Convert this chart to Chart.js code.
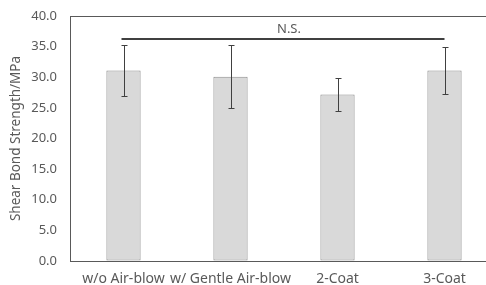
<!DOCTYPE html>
<html>
<head>
<meta charset="utf-8">
<script src="https://cdn.jsdelivr.net/npm/chart.js@4/dist/chart.umd.min.js"></script>
<style>
  html, body { margin: 0; padding: 0; background: #fff; overflow: hidden; }
  .chart-wrapper { width: 500px; height: 285px; position: relative; }
</style>
</head>
<body>
<div class="chart-wrapper"><canvas id="bondChart"></canvas></div>
<script>
const categories = ['w/o Air-blow', 'w/ Gentle Air-blow', '2-Coat', '3-Coat'];
const means = [31.1, 30.1, 27.2, 31.1];
const sds = [4.2, 5.1, 2.7, 3.9];
const yTicks = [0, 5, 10, 15, 20, 25, 30, 35, 40];

// significance bracket: from first to last group
const nsLabel = 'N.S.';
const nsFrom = 0;
const nsTo = 3;
const nsLevel = 36.2;

const FONT = '"Noto Sans", sans-serif';
const TEXT = '#595959';

const errorBars = {
  id: 'errorBars',
  afterDatasetsDraw(chart) {
    const { ctx, scales: { x, y } } = chart;
    ctx.save();
    ctx.strokeStyle = '#404040';
    ctx.lineWidth = 1;
    means.forEach((m, i) => {
      const cx = Math.round(x.getPixelForValue(i)) + 0.5;
      const top = Math.round(y.getPixelForValue(m + sds[i])) + 0.5;
      const bot = Math.round(y.getPixelForValue(m - sds[i])) + 0.5;
      ctx.beginPath();
      ctx.moveTo(cx, top);
      ctx.lineTo(cx, bot);
      ctx.moveTo(cx - 3, top);
      ctx.lineTo(cx + 3, top);
      ctx.moveTo(cx - 3, bot);
      ctx.lineTo(cx + 3, bot);
      ctx.stroke();
    });

    // N.S. bracket
    const ly = Math.round(y.getPixelForValue(nsLevel));
    const x1 = x.getPixelForValue(nsFrom) - 2;
    const x2 = x.getPixelForValue(nsTo);
    ctx.lineWidth = 2;
    ctx.beginPath();
    ctx.moveTo(x1, ly);
    ctx.lineTo(x2, ly);
    ctx.stroke();
    ctx.fillStyle = TEXT;
    ctx.font = '13px ' + FONT;
    ctx.textAlign = 'center';
    ctx.textBaseline = 'bottom';
    ctx.fillText(nsLabel, (x1 + x2) / 2 + 6, ly - 3);
    ctx.restore();
  },
};

new Chart(document.getElementById('bondChart'), {
  type: 'bar',
  data: {
    labels: categories,
    datasets: [{
      data: means,
      backgroundColor: '#d9d9d9',
      borderColor: '#8c8c8c',
      borderWidth: 1,
      borderSkipped: false,
      categoryPercentage: 1,
      barPercentage: 0.32,
    }],
  },
  options: {
    responsive: true,
    maintainAspectRatio: false,
    animation: false,
    layout: { padding: { top: 16, right: 2, left: 0, bottom: 0 } },
    plugins: { legend: { display: false }, tooltip: { enabled: false } },
    scales: {
      x: {
        grid: { display: false, drawTicks: false },
        border: { display: true, color: '#595959', width: 1 },
        ticks: {
          color: TEXT, font: { family: FONT, size: 14 },
          padding: 10, maxRotation: 0, minRotation: 0, autoSkip: false,
        },
        afterFit: s => { s.height = 24; s.paddingLeft = 0; s.paddingRight = 0; },
      },
      y: {
        min: 0,
        max: 40,
        afterBuildTicks: s => { s.ticks = yTicks.map(v => ({ value: v })); },
        grid: {
          drawTicks: false,
          color: c => (c.tick && c.tick.value === 40 ? '#595959' : 'rgba(0,0,0,0)'),
        },
        border: { display: true, color: '#595959', width: 1 },
        ticks: {
          color: TEXT, font: { family: FONT, size: 13 }, padding: 13,
          callback: v => Number(v).toFixed(1),
        },
        title: {
          display: true, text: 'Shear Bond Strength/MPa',
          color: TEXT, font: { family: FONT, size: 13.5 }, padding: { top: 8, bottom: 4 },
        },
        afterFit: s => { s.width = 70; s.paddingTop = 0; s.paddingBottom = 0; },
      },
    },
  },
  plugins: [errorBars],
});
</script>
</body>
</html>
